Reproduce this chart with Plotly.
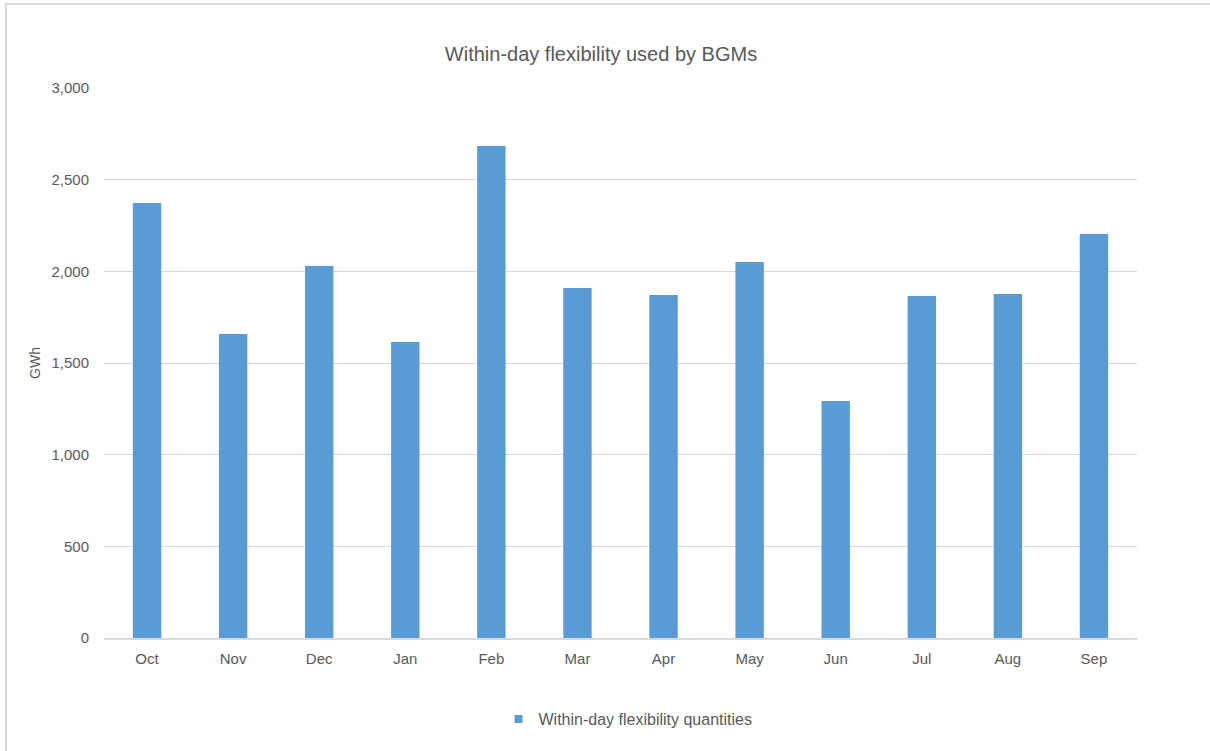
import plotly.graph_objects as go

months = ["Oct", "Nov", "Dec", "Jan", "Feb", "Mar", "Apr", "May", "Jun", "Jul", "Aug", "Sep"]
flex_gwh = [2373, 1658, 2029, 1615, 2684, 1909, 1871, 2051, 1293, 1865, 1876, 2204]
y_ticks = [0, 500, 1000, 1500, 2000, 2500, 3000]
series_name = "Within-day flexibility quantities"

W, H = 1210, 751
L, R, T, B = 104, 73, 88, 113
pw, ph = W - L - R, H - T - B

font = "Liberation Sans, Arial, sans-serif"
grey = "#595959"
bar_blue = "#5b9bd5"

fig = go.Figure()
fig.add_trace(go.Bar(
    x=months, y=flex_gwh,
    name=series_name, showlegend=False,
    marker=dict(color=bar_blue, line=dict(width=0)),
    width=0.33,
))
# small square legend key
fig.add_trace(go.Scatter(
    x=[None], y=[None], mode="markers", name=series_name,
    marker=dict(symbol="square", size=8, color=bar_blue),
))

# outer chart frame (extends past bottom/right edges)
fig.add_shape(type="rect", xref="paper", yref="paper",
              x0=(6 - L) / pw, x1=(W + 20 - L) / pw,
              y0=-(B + 20) / ph, y1=(H - 4 - B) / ph,
              line=dict(color="#d9d9d9", width=2), fillcolor="rgba(0,0,0,0)",
              layer="below")

fig.update_layout(
    width=W, height=H,
    margin=dict(l=L, r=R, t=T, b=B),
    paper_bgcolor="white", plot_bgcolor="white",
    font=dict(family=font, size=15, color=grey),
    title=dict(text="Within-day flexibility used by BGMs", x=601 / W,
               xanchor="center", y=1 - 54 / H, yanchor="middle",
               font=dict(size=20, color=grey)),
    showlegend=True,
    legend=dict(orientation="h", x=(628 - L) / pw, xanchor="center",
                y=-(719 - 638) / ph, yanchor="middle",
                font=dict(size=16, color=grey)),
)
fig.update_xaxes(showline=True, linecolor="#d9d9d9", linewidth=1.5, ticks="",
                 ticklabelstandoff=6,
                 tickfont=dict(size=15, color=grey))
fig.update_yaxes(range=[0, 3000], tickvals=y_ticks, tickformat=",", showgrid=True,
                 gridcolor="#d9d9d9", gridwidth=1, zeroline=False, ticks="",
                 ticklabelstandoff=14,
                 title=dict(text="GWh", font=dict(size=14, color=grey), standoff=7),
                 tickfont=dict(size=15, color=grey))

fig.write_html("out.html")
